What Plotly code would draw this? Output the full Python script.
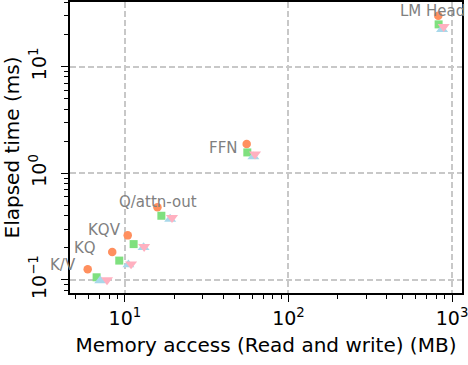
import math
import plotly.graph_objects as go

# layer names, one point per layer per series
layers = ["K/V", "KQ", "KQV", "Q/attn-out", "FFN", "LM Head"]

# memory access (MB) and elapsed time (ms) for each of the four series
mem_circle = [5.92, 8.36, 10.4, 15.8, 55.5, 824]
time_circle = [0.126, 0.183, 0.262, 0.48, 1.88, 30.0]

mem_square = [6.71, 9.23, 11.3, 16.7, 56.0, 828]
time_square = [0.106, 0.152, 0.217, 0.40, 1.57, 24.9]

mem_up = [7.06, 10.5, 13.0, 18.9, 61.0, 869]
time_up = [0.0985, 0.139, 0.202, 0.373, 1.43, 22.4]

mem_down = [7.77, 10.9, 13.1, 19.4, 62.4, 889]
time_down = [0.100, 0.141, 0.205, 0.384, 1.51, 23.7]

major_exp = [-1, 0, 1, 2, 3]

FONT = "DejaVu Sans"

fig = go.Figure()
fig.add_trace(go.Scatter(x=mem_circle, y=time_circle, mode="markers",
                         marker=dict(symbol="circle", size=8.5, color="#FF8F5E")))
fig.add_trace(go.Scatter(x=mem_square, y=time_square, mode="markers",
                         marker=dict(symbol="square", size=8, color="#7FE07F")))
fig.add_trace(go.Scatter(x=mem_up, y=time_up, mode="markers",
                         marker=dict(symbol="triangle-up", size=10.5, color="#A8D8EA")))
fig.add_trace(go.Scatter(x=mem_down, y=time_down, mode="markers",
                         marker=dict(symbol="triangle-down", size=10.5, color="#FFB0C0")))

# label placement relative to the orange point (pixels)
label_shift = [(-10, 4), (-14, 4), (-5, 5), (42, 5), (-8, -4), (29, 5)]
for name, x, y, (dx, dy) in zip(layers, mem_circle, time_circle, label_shift):
    # annotations on log axes take log10 positions
    fig.add_annotation(x=math.log10(x), y=math.log10(y), xref="x", yref="y",
                       text=name, showarrow=False,
                       xanchor="right", yanchor="middle", xshift=dx, yshift=dy,
                       font=dict(family=FONT, size=15, color="#808080"))

minor_vals = [m * 10 ** e for e in range(-2, 4) for m in range(2, 10)]
tick_text = ["10<sup>%s</sup>" % (str(e) if e >= 0 else "\u2212" + str(-e)) for e in major_exp]
tick_vals = [10 ** e for e in major_exp]

axis_common = dict(
    type="log", showline=True, linecolor="black", linewidth=1.5, mirror=True,
    ticks="outside", ticklen=7, tickwidth=1.3, tickcolor="black",
    showgrid=True, gridcolor="#C8C8C8", gridwidth=1.5, griddash="6px,3px",
    zeroline=False, tickvals=tick_vals, ticktext=tick_text, automargin=False,
    ticklabeloverflow="allow",
    tickfont=dict(family=FONT, size=19, color="black"),
    minor=dict(tickvals=minor_vals, ticks="outside", ticklen=4, tickwidth=1,
               tickcolor="black", showgrid=False),
)

fig.update_xaxes(**axis_common, range=[0.664, 3.061],
                 title=dict(text="Memory access (Read and write) (MB)",
                            font=dict(family=FONT, size=20, color="black"), standoff=10))
fig.update_yaxes(**axis_common, range=[-1.122, 1.606], tickangle=-90,
                 ticklabelstandoff=8,
                 title=dict(text="Elapsed time (ms)",
                            font=dict(family=FONT, size=20, color="black"), standoff=6))

fig.update_layout(
    width=468, height=365,
    margin=dict(l=70, r=6, t=2, b=72, autoexpand=False),
    plot_bgcolor="white", paper_bgcolor="white",
    showlegend=False,
    font=dict(family=FONT),
)

# drop the page's default body margin so the chart sits at the window corner
fig.write_html("out.html", config={"displayModeBar": False},
               post_script="document.body.style.margin = '0px';")
